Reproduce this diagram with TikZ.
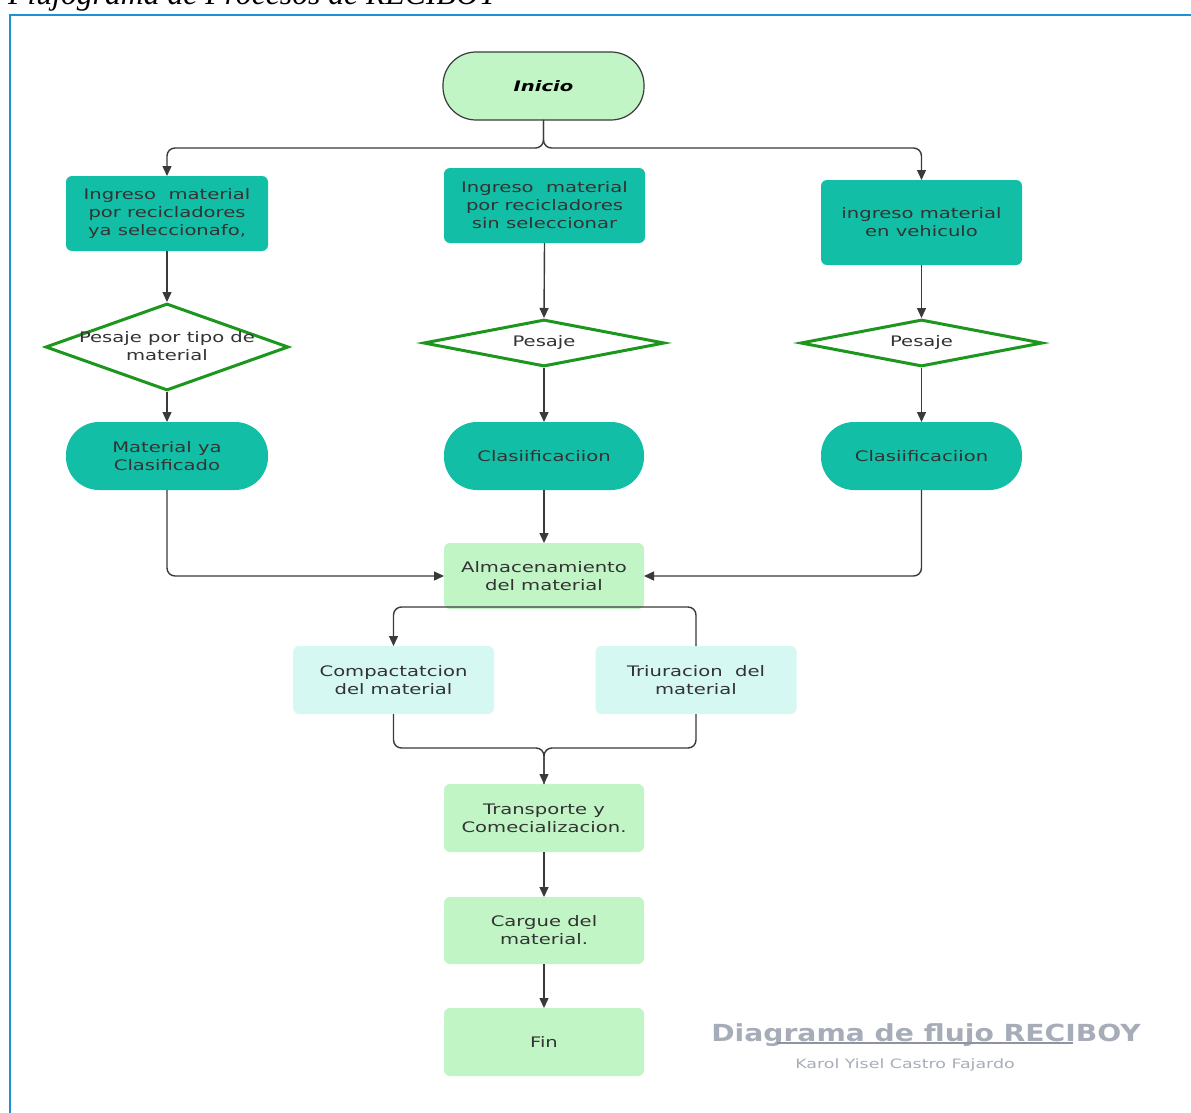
\documentclass[tikz,border=0pt]{standalone}
\usepackage{fontspec}
\usetikzlibrary{shapes.geometric,arrows.meta}
\newfontfamily\djfont[FakeStretch=1.35]{DejaVu Sans}
\newfontfamily\titfont[FakeStretch=1.2]{DejaVu Sans}
\newfontfamily\serfont{Liberation Serif}
\definecolor{tealc}{HTML}{12BFA6}
\definecolor{lgreen}{HTML}{C2F5C6}
\definecolor{lcyan}{HTML}{D5F8F2}
\definecolor{diagreen}{HTML}{1C961C}
\definecolor{txtc}{HTML}{333333}
\definecolor{linec}{HTML}{3A3A3A}
\definecolor{framec}{HTML}{1F8FD8}
\definecolor{grayc}{HTML}{A7ADB8}
\definecolor{grayd}{HTML}{8E939E}
\tikzset{
  base/.style={font=\djfont\fontsize{14.5}{18}\selectfont, text=txtc, align=center, inner sep=0pt, outer sep=0pt},
  tbox/.style={base, rectangle, rounded corners=6, fill=tealc},
  gbox/.style={base, rectangle, rounded corners=6, fill=lgreen},
  cbox/.style={base, rectangle, rounded corners=6, fill=lcyan},
  stad/.style={base, rectangle, rounded corners=33, fill=tealc},
  dia/.style={diamond, draw=diagreen, line width=3, fill=white, inner sep=0pt, outer sep=1.5pt},
  conn/.style={draw=linec, line width=1.4, rounded corners=8, -{Triangle[length=10pt,width=9pt]}},
  plain/.style={draw=linec, line width=1.4, rounded corners=8},
}
\begin{document}
\begin{tikzpicture}[x=1pt,y=-1pt]
\useasboundingbox (0,0) rectangle (1191,1113);
\fill[white] (0,0) rectangle (1191,1113);
% title and frame
\node[anchor=base west, font=\serfont\itshape\fontsize{31.7}{36}\selectfont, inner sep=0pt] (title) at (8,4.5) {Flujograma de Procesos de RECIBOY};
\draw[framec, line width=2.5] (10,1120) -- (10,15) -- (1200,15);

% nodes
\node[base, rectangle, rounded corners=33, fill=lgreen, draw=linec, line width=1.2, minimum width=201, minimum height=68, font=\djfont\bfseries\itshape\fontsize{14.5}{18}\selectfont, text=black] (ini) at (543.5,86) {Inicio};

\node[tbox, minimum width=202, minimum height=75] (lb) at (167,213.5) {Ingreso\ \ material\\por recicladores\\ya seleccionafo,};
\node[tbox, minimum width=201, minimum height=75] (mb) at (544.5,205.5) {Ingreso\ \ material\\por recicladores\\sin seleccionar};
\node[tbox, minimum width=201, minimum height=85] (rb) at (921.5,222.5) {ingreso material\\en vehiculo};

\node[dia, minimum width=243, minimum height=87] (ld) at (167,347) {};
\node[base] (ldt) at (167,346) {Pesaje por tipo de\\material};
\node[dia, minimum width=241, minimum height=47] (md) at (544,343) {};
\node[base] (mdt) at (544,342) {Pesaje};
\node[dia, minimum width=242, minimum height=47] (rd) at (921.5,343) {};
\node[base] (rdt) at (921.5,342) {Pesaje};

\node[stad, minimum width=202, minimum height=68] (ls) at (167,456) {Material ya\\Clasificado};
\node[stad, minimum width=200, minimum height=68] (ms) at (544,456) {Clasiificaciion};
\node[stad, minimum width=201, minimum height=68] (rs) at (921.5,456) {Clasiificaciion};

\node[gbox, minimum width=200, minimum height=66] (alm) at (544,576) {Almacenamiento\\del material};

\node[cbox, minimum width=201, minimum height=68] (comp) at (393.5,680) {Compactatcion\\del material};
\node[cbox, minimum width=201, minimum height=68] (tri) at (696,680) {Triuracion\ \ del\\material};

\node[gbox, minimum width=200, minimum height=68] (tra) at (544,818) {Transporte y\\Comecializacion.};
\node[gbox, minimum width=200, minimum height=67] (car) at (544,930.5) {Cargue del\\material.};
\node[gbox, minimum width=200, minimum height=68] (fin) at (544,1042) {Fin};

% connectors
\draw[conn] (ini.south) -- ++(0,28) -| (lb.north);
\draw[conn] (ini.south) -- ++(0,28) -| (rb.north);
\draw[conn] (lb.south) -- (ld.north);
\draw[conn] (mb.south) -- (md.north);
\draw[conn] (rb.south) -- (rd.north);
\draw[conn] (ld.south) -- (ls.north);
\draw[conn] (md.south) -- (ms.north);
\draw[conn] (rd.south) -- (rs.north);
\draw[conn] (ms.south) -- (alm.north);
\draw[conn] (ls.south) |- (alm.west);
\draw[conn] (rs.south) |- (alm.east);
\draw[conn] ([yshift=2pt]alm.south) -| (comp.north);
\draw[plain] ([yshift=2pt]alm.south) -| (tri.north);
\draw[plain] (comp.south) -- ++(0,34) -| (tra.north);
\draw[conn] (tri.south) -- ++(0,34) -| (tra.north);
\draw[conn] (tra.south) -- (car.north);
\draw[conn] (car.south) -- (fin.north);

% bottom caption
\node[anchor=base, font=\titfont\bfseries\fontsize{23.5}{28}\selectfont, text=grayc, inner sep=0pt] (dtitle) at (926,1041.5) {Diagrama de flujo RECIBOY};
\draw[grayd, line width=1.5] (777,1043) -- (1073,1043);
\node[anchor=base, font=\djfont\fontsize{12.9}{15}\selectfont, text=grayc, inner sep=0pt] (author) at (905,1068) {Karol Yisel Castro Fajardo};
\end{tikzpicture}
\end{document}
